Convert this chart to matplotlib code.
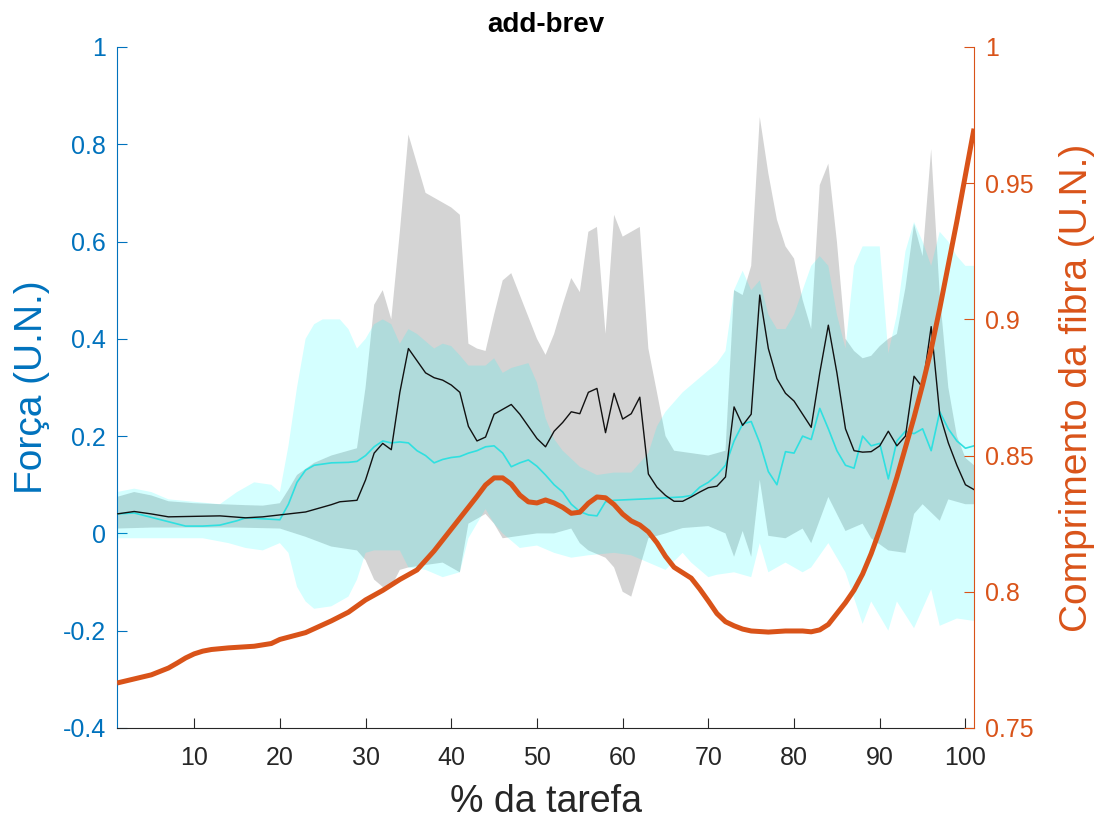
import numpy as np
import matplotlib
matplotlib.use("Agg")
import matplotlib.pyplot as plt
from matplotlib.ticker import FuncFormatter

plt.rcParams['font.family'] = ['Liberation Sans', 'DejaVu Sans']

# --- data (x = % da tarefa) ---
# black mean line (left axis)
x_black = [1, 3, 5, 7, 10, 13, 16, 18, 20, 23, 26, 27, 29, 30, 31, 32, 33, 34, 35, 36,
           37, 38, 39, 40, 41, 42, 43, 44, 45, 46, 47, 48, 49, 50, 51, 52, 53, 54, 55, 56,
           57, 58, 59, 60, 61, 62, 63, 64, 65, 66, 67, 68, 69, 70, 71, 72, 73, 74, 75, 76,
           77, 78, 79, 80, 81, 82, 83, 84, 85, 86, 87, 88, 89, 90, 91, 92, 93, 94, 95, 96,
           97, 98, 99, 100, 101]
y_black = [0.040, 0.045, 0.040, 0.034, 0.035, 0.036, 0.032, 0.034, 0.038, 0.044, 0.059, 0.065,
           0.068, 0.110, 0.165, 0.185, 0.172, 0.290, 0.380, 0.355, 0.330, 0.320, 0.315, 0.305,
           0.290, 0.220, 0.190, 0.198, 0.245, 0.255, 0.265, 0.245, 0.220, 0.195, 0.178, 0.210,
           0.228, 0.250, 0.246, 0.290, 0.298, 0.207, 0.288, 0.235, 0.246, 0.280, 0.122, 0.095,
           0.078, 0.066, 0.066, 0.075, 0.085, 0.094, 0.097, 0.116, 0.260, 0.222, 0.245, 0.490,
           0.380, 0.318, 0.288, 0.272, 0.245, 0.218, 0.330, 0.428, 0.330, 0.215, 0.170, 0.167,
           0.168, 0.180, 0.210, 0.180, 0.200, 0.323, 0.300, 0.425, 0.245, 0.186, 0.140, 0.100,
           0.090]

# cyan mean line (left axis)
x_cyan = [1, 3, 5, 7, 9, 11, 13, 15, 16, 18, 20, 21, 22, 23, 24, 26, 28, 29, 30, 31, 32,
          33, 34, 35, 36, 37, 38, 39, 40, 41, 42, 43, 44, 45, 46, 47, 48, 49, 50, 51, 52,
          53, 54, 55, 56, 57, 58, 59, 64, 67, 68, 69, 70, 71, 72, 73, 74, 75, 76, 77, 78,
          79, 80, 81, 82, 83, 84, 85, 86, 87, 88, 89, 90, 91, 92, 93, 94, 95, 96, 97, 98,
          99, 100, 101]
y_cyan = [0.040, 0.042, 0.033, 0.024, 0.015, 0.015, 0.017, 0.026, 0.032, 0.030, 0.028, 0.060,
          0.105, 0.130, 0.140, 0.145, 0.146, 0.148, 0.160, 0.178, 0.190, 0.186, 0.188, 0.186,
          0.170, 0.160, 0.145, 0.152, 0.156, 0.158, 0.165, 0.170, 0.178, 0.180, 0.165, 0.137,
          0.145, 0.151, 0.138, 0.120, 0.100, 0.085, 0.060, 0.045, 0.038, 0.036, 0.065, 0.068,
          0.072, 0.075, 0.078, 0.095, 0.105, 0.120, 0.140, 0.190, 0.225, 0.230, 0.186, 0.127,
          0.100, 0.168, 0.165, 0.200, 0.193, 0.257, 0.215, 0.170, 0.140, 0.134, 0.200, 0.180,
          0.185, 0.112, 0.190, 0.210, 0.205, 0.215, 0.170, 0.250, 0.215, 0.190, 0.175, 0.180]

# grey band (black mean spread)
x_grey_hi = [1, 3, 5, 7, 10, 13, 16, 18, 20, 21, 22, 24, 26, 28, 29, 30, 31, 32, 33, 34, 35,
             36, 37, 38, 39, 40, 41, 42, 43, 44, 45, 46, 47, 48, 49, 50, 51, 52, 53, 54, 55,
             56, 57, 58, 59, 60, 61, 62, 63, 64, 65, 66, 70, 72, 73, 74, 75, 76, 77, 78, 79,
             80, 81, 82, 83, 84, 85, 86, 87, 88, 89, 90, 91, 92, 93, 94, 95, 96, 97, 98, 99,
             100, 101]
grey_hi = [0.075, 0.085, 0.078, 0.066, 0.062, 0.060, 0.058, 0.057, 0.062, 0.090, 0.120, 0.145,
           0.160, 0.170, 0.175, 0.300, 0.470, 0.500, 0.440, 0.620, 0.820, 0.760, 0.700, 0.690,
           0.680, 0.670, 0.655, 0.390, 0.380, 0.375, 0.450, 0.520, 0.535, 0.490, 0.445, 0.400,
           0.367, 0.410, 0.470, 0.525, 0.496, 0.620, 0.630, 0.410, 0.655, 0.610, 0.620, 0.630,
           0.380, 0.290, 0.200, 0.170, 0.160, 0.170, 0.500, 0.490, 0.550, 0.856, 0.740, 0.645,
           0.590, 0.565, 0.480, 0.420, 0.716, 0.760, 0.600, 0.400, 0.375, 0.360, 0.365, 0.385,
           0.400, 0.410, 0.505, 0.636, 0.570, 0.790, 0.490, 0.300, 0.200, 0.155, 0.140]
x_grey_lo = [1, 5, 10, 15, 20, 23, 26, 29, 30, 31, 32, 33, 34, 35, 37, 39, 41, 42, 44, 45, 46,
             48, 50, 52, 54, 55, 56, 58, 59, 60, 61, 62, 63, 65, 67, 70, 72, 73, 74, 75, 76,
             77, 79, 81, 82, 84, 85, 86, 88, 89, 91, 93, 94, 95, 97, 98, 100, 101]
grey_lo = [0.010, 0.012, 0.012, 0.012, 0.010, -0.007, -0.027, -0.035, -0.055, -0.095, -0.110,
           -0.110, -0.075, -0.070, -0.065, -0.060, -0.080, 0.020, 0.040, 0.020, -0.010, -0.005,
           0.000, 0.000, 0.010, -0.020, -0.035, -0.050, -0.070, -0.120, -0.130, -0.070, -0.010,
           0.000, 0.011, 0.015, 0.000, -0.048, 0.005, -0.048, 0.110, -0.005, -0.010, 0.010,
           -0.020, 0.075, 0.040, 0.005, 0.020, -0.010, -0.035, -0.040, 0.040, 0.060, 0.026,
           0.070, 0.060, 0.060]

# cyan band (cyan mean spread)
x_cyan_hi = [1, 3, 5, 7, 10, 13, 15, 17, 19, 20, 21, 22, 23, 24, 25, 27, 28, 29, 30, 31, 32,
             33, 34, 35, 36, 38, 39, 40, 41, 42, 44, 45, 46, 47, 49, 50, 51, 52, 53, 55, 57,
             59, 61, 62, 63, 64, 65, 67, 69, 71, 72, 73, 74, 75, 76, 77, 78, 79, 80, 81, 82,
             83, 84, 85, 86, 87, 88, 90, 91, 92, 93, 94, 95, 96, 97, 98, 99, 100, 101]
cyan_hi = [0.085, 0.092, 0.085, 0.070, 0.065, 0.060, 0.085, 0.105, 0.100, 0.085, 0.180, 0.300,
           0.400, 0.430, 0.440, 0.440, 0.420, 0.380, 0.400, 0.430, 0.440, 0.430, 0.390, 0.420,
           0.410, 0.380, 0.390, 0.385, 0.366, 0.345, 0.345, 0.360, 0.330, 0.340, 0.350, 0.310,
           0.237, 0.194, 0.170, 0.137, 0.120, 0.125, 0.125, 0.145, 0.165, 0.220, 0.250, 0.290,
           0.320, 0.350, 0.375, 0.500, 0.540, 0.500, 0.520, 0.450, 0.420, 0.420, 0.450, 0.500,
           0.550, 0.570, 0.550, 0.450, 0.380, 0.550, 0.590, 0.590, 0.370, 0.450, 0.580, 0.640,
           0.600, 0.550, 0.620, 0.600, 0.570, 0.550, 0.550]
x_cyan_lo = [1, 5, 11, 14, 16, 18, 20, 21, 22, 23, 24, 26, 28, 29, 30, 31, 34, 35, 37, 39, 41,
             42, 44, 45, 46, 48, 50, 52, 54, 56, 59, 61, 63, 65, 67, 68, 70, 71, 73, 75, 76,
             77, 79, 81, 82, 84, 86, 88, 89, 91, 92, 94, 96, 97, 99, 101]
cyan_lo = [-0.010, -0.010, -0.010, -0.020, -0.030, -0.035, -0.020, -0.040, -0.110, -0.140,
           -0.155, -0.150, -0.130, -0.095, -0.040, -0.035, -0.035, -0.070, -0.075, -0.090,
           -0.080, -0.010, 0.050, 0.020, 0.000, -0.030, -0.025, -0.040, -0.050, -0.045, -0.040,
           -0.045, -0.060, -0.075, -0.040, -0.060, -0.090, -0.085, -0.080, -0.090, -0.020,
           -0.080, -0.060, -0.080, -0.070, -0.020, -0.080, -0.186, -0.140, -0.200, -0.140,
           -0.195, -0.115, -0.190, -0.175, -0.180]

# fibre length (right axis)
x_fibra = [1, 3, 5, 7, 8, 9, 10, 11, 12, 14, 17, 19, 20, 23, 26, 28, 30, 32, 34, 36, 38, 40,
           42, 43, 44, 45, 46, 47, 48, 49, 50, 51, 52, 53, 54, 55, 56, 57, 58, 59, 60, 61, 62,
           63, 64, 65, 66, 67, 68, 69, 70, 71, 72, 73, 74, 75, 77, 79, 81, 82, 83, 84, 85, 86,
           87, 88, 89, 90, 91, 92, 93, 94, 95, 96, 97, 98, 99, 100, 101]
fibra = [0.7665, 0.768, 0.7695, 0.772, 0.7738, 0.7757, 0.7772, 0.7782, 0.7788, 0.7794, 0.780,
         0.781, 0.7825, 0.785, 0.7893, 0.7925, 0.797, 0.8005, 0.8045, 0.808, 0.815, 0.823,
         0.831, 0.835, 0.8392, 0.8418, 0.8418, 0.8395, 0.8355, 0.833, 0.8326, 0.8337, 0.8326,
         0.831, 0.8288, 0.8292, 0.8325, 0.8348, 0.8345, 0.832, 0.8285, 0.826, 0.8245, 0.822,
         0.818, 0.813, 0.809, 0.807, 0.805, 0.801, 0.7966, 0.792, 0.789, 0.7875, 0.7863, 0.7856,
         0.7852, 0.7856, 0.7856, 0.7853, 0.786, 0.788, 0.792, 0.796, 0.8006, 0.8065, 0.814,
         0.8227, 0.832, 0.842, 0.853, 0.864, 0.876, 0.889, 0.904, 0.920, 0.936, 0.953, 0.970]

blue = '#0072BD'
orange = '#D95319'
dark = '#262626'

fig = plt.figure(figsize=(10.96, 8.22), dpi=100)
ax = fig.add_axes([0.1068, 0.1144, 0.7819, 0.8285])

# bands: grey first, translucent cyan on top
ax.fill(np.r_[x_grey_hi, x_grey_lo[::-1]], np.r_[grey_hi, grey_lo[::-1]],
        color='#d4d4d4', lw=0, zorder=1)
ax.fill(np.r_[x_cyan_hi, x_cyan_lo[::-1]], np.r_[cyan_hi, cyan_lo[::-1]],
        color='cyan', alpha=0.17, lw=0, zorder=2)
ax.plot(x_cyan, y_cyan, color='#2fe0e0', lw=1.2, zorder=3)
ax.plot(x_black, y_black, color='#111111', lw=1.0, zorder=4)

ax.set_xlim(1, 101)
ax.set_ylim(-0.4, 1)
ax.set_xticks(np.arange(10, 101, 10))
ax.set_yticks(np.arange(-0.4, 1.01, 0.2))
ax.yaxis.set_major_formatter(FuncFormatter(lambda v, p: '%g' % round(v, 2)))

ax.spines['top'].set_visible(False)
ax.spines['right'].set_visible(False)
ax.spines['left'].set_color(blue)
ax.spines['bottom'].set_color(dark)
ax.tick_params(axis='y', direction='in', length=7, colors=blue, labelsize=18, pad=8)
ax.tick_params(axis='x', direction='in', length=7, colors=dark, labelsize=18, pad=13)

ax.set_xlabel('% da tarefa', fontsize=27, color=dark)
ax.xaxis.set_label_coords(0.5, -0.109)
ax.xaxis.label.set_va('center')
ax.set_ylabel('Força (U.N.)', fontsize=28, color=blue)
ax.yaxis.set_label_coords(-0.099, 0.5)
ax.yaxis.label.set_va('center')
ax.set_title('add-brev', fontsize=20, fontweight='bold', pad=11)

# right axis: fibre length
ax2 = ax.twinx()
ax2.plot(x_fibra, fibra, color=orange, lw=3.6, solid_capstyle='butt')
ax2.set_ylim(0.75, 1)
ax2.set_yticks(np.arange(0.75, 1.001, 0.05))
ax2.yaxis.set_major_formatter(FuncFormatter(lambda v, p: '%g' % round(v, 2)))
for s in ['left', 'top', 'bottom']:
    ax2.spines[s].set_visible(False)
ax2.spines['right'].set_color(orange)
ax2.tick_params(axis='y', direction='in', length=7, colors=orange, labelsize=18, pad=8)
ax2.set_ylabel('Comprimento da fibra (U.N.)', fontsize=28, color=orange)
ax2.yaxis.set_label_coords(1.12, 0.5)
ax2.yaxis.label.set_va('center')

fig.savefig('out.png', dpi=100)
